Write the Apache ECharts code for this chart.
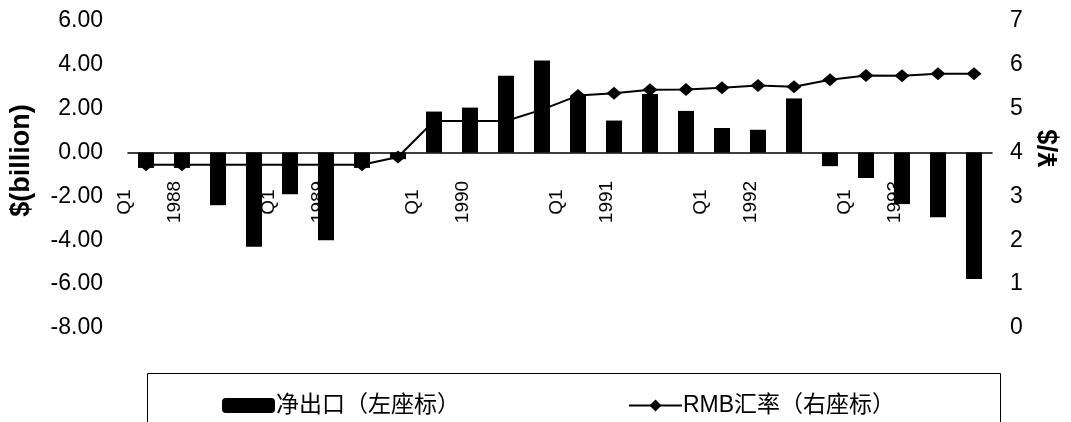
<!DOCTYPE html>
<html>
<head>
<meta charset="utf-8">
<script src="https://cdn.jsdelivr.net/npm/echarts@6/dist/echarts.min.js"></script>
<style>
  html, body { margin: 0; padding: 0; background: #fff; }
  #chart { width: 1071px; height: 422px; }
</style>
</head>
<body>
<div id="chart"></div>
<script>
// Quarters, 1988Q1 .. 1993Q4
const quarters = [
  '1988Q1','1988Q2','1988Q3','1988Q4',
  '1989Q1','1989Q2','1989Q3','1989Q4',
  '1990Q1','1990Q2','1990Q3','1990Q4',
  '1991Q1','1991Q2','1991Q3','1991Q4',
  '1992Q1','1992Q2','1992Q3','1992Q4',
  '1993Q1','1993Q2','1993Q3','1993Q4'
];
// Net exports, $ billion (left axis)
const netExports = [
  -0.70, -0.70, -2.40, -4.30,
  -1.90, -4.00, -0.70, -0.30,
   1.87,  2.05,  3.50,  4.20,
   2.60,  1.46,  2.67,  1.90,
   1.12,  1.04,  2.47, -0.62,
  -1.16, -2.35, -2.95, -5.77
];
// RMB per US dollar (right axis)
const rmbRate = [
  3.72, 3.72, 3.72, 3.72,
  3.72, 3.72, 3.72, 3.90,
  4.72, 4.72, 4.72, 4.98,
  5.30, 5.35, 5.43, 5.44,
  5.48, 5.53, 5.50, 5.66,
  5.76, 5.75, 5.80, 5.80
];
const seriesNames = ['净出口（左座标）', 'RMB汇率（右座标）'];
const leftTitle = '$(billion)';
const rightTitle = '¥/$';

const latin = '"Liberation Sans", Arial, sans-serif';
const cjk = '"Liberation Sans", "Noto Sans CJK SC", sans-serif';

const chart = echarts.init(document.getElementById('chart'), null, { renderer: 'canvas' });

chart.setOption({
  animation: false,
  backgroundColor: '#fff',
  grid: { left: 125, right: 75, top: 21, bottom: 94 },
  legend: {
    data: seriesNames,
    left: 217,
    top: 389,
    itemWidth: 53,
    itemHeight: 15,
    itemGap: 168,
    textStyle: { fontFamily: cjk, fontSize: 23, color: '#000', padding: [0, 0, 0, -4] }
  },
  graphic: [{
    type: 'rect',
    shape: { x: 147.5, y: 373.5, width: 853, height: 80 },
    style: { fill: 'none', stroke: '#000', lineWidth: 1 },
    silent: true
  }],
  xAxis: [{
    // zero line
    type: 'category',
    data: quarters,
    axisLine: { onZero: true, onZeroAxisIndex: 0, lineStyle: { color: '#000', width: 1.5 } },
    axisTick: { show: false },
    axisLabel: { show: false }
  }, {
    // quarter / year labels, hung just under the zero line
    type: 'category',
    data: quarters,
    position: 'bottom',
    offset: -126,
    axisLine: { show: false, onZero: false },
    axisTick: { show: false },
    axisLabel: {
      interval: 3,
      rotate: 90,
      align: 'center',
      verticalAlign: 'middle',
      margin: 0,
      color: '#000',
      formatter: v => '{q|' + v.slice(4) + '}\n{y|' + v.slice(0, 4) + '}',
      rich: {
        q: { fontFamily: latin, fontSize: 19, lineHeight: 58, color: '#000' },
        y: { fontFamily: latin, fontSize: 19, lineHeight: 42, color: '#000' }
      }
    }
  }],
  yAxis: [{
    type: 'value',
    min: -8, max: 6, interval: 2,
    axisLine: { show: false },
    axisTick: { show: false },
    splitLine: { show: false },
    axisLabel: {
      margin: 25, fontFamily: latin, fontSize: 23, color: '#000',
      formatter: v => v.toFixed(2)
    },
    name: leftTitle,
    nameLocation: 'middle',
    nameRotate: 90,
    nameGap: 93,
    nameTextStyle: { fontFamily: latin, fontSize: 27, fontWeight: 'bold', color: '#000', padding: [0, 0, 0, 28] }
  }, {
    type: 'value',
    min: 0, max: 7, interval: 1,
    position: 'right',
    axisLine: { show: false },
    axisTick: { show: false },
    splitLine: { show: false },
    axisLabel: { margin: 18, fontFamily: latin, fontSize: 23, color: '#000' },
    name: rightTitle,
    nameLocation: 'middle',
    nameRotate: 90,
    nameGap: 44,
    nameTextStyle: { fontFamily: latin, fontSize: 27, fontWeight: 'bold', color: '#000', padding: [0, 0, 0, 52] }
  }],
  series: [{
    name: seriesNames[1],
    type: 'line',
    yAxisIndex: 1,
    z: 1,
    data: rmbRate,
    symbol: 'diamond',
    symbolSize: [15, 13],
    showAllSymbol: true,
    lineStyle: { color: '#000', width: 2 },
    itemStyle: { color: '#000' }
  }, {
    name: seriesNames[0],
    type: 'bar',
    yAxisIndex: 0,
    z: 3,
    data: netExports,
    barWidth: 16,
    itemStyle: { color: '#000' }
  }]
});
</script>
</body>
</html>
